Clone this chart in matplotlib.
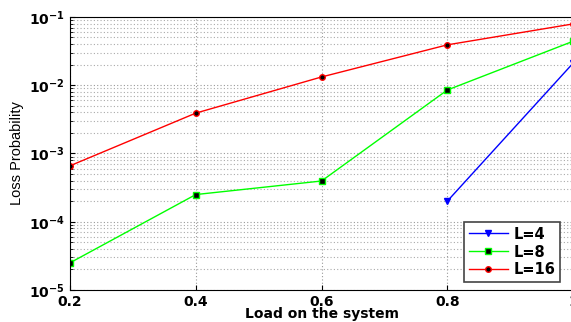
import matplotlib
matplotlib.use("Agg")
import matplotlib.pyplot as plt
import numpy as np

load = [0.2, 0.4, 0.6, 0.8, 1.0]
load_l4 = [0.8, 1.0]
loss_l4 = [2.0e-4, 2.1e-2]
loss_l8 = [2.5e-5, 2.5e-4, 3.95e-4, 8.5e-3, 4.4e-2]
loss_l16 = [6.6e-4, 3.9e-3, 1.32e-2, 3.9e-2, 7.9e-2]

plt.rcParams['font.family'] = ['DejaVu Sans']
plt.rcParams['mathtext.default'] = 'bf'

fig = plt.figure(figsize=(5.71, 3.22), dpi=100)
ax = fig.add_axes([0.1226, 0.0994, 0.881, 0.848])

ax.plot(load_l4, loss_l4, color='blue', lw=1, marker='v', ms=5,
        mfc='blue', mec='blue', label='L=4')
ax.plot(load, loss_l8, color='#00ff00', lw=1, marker='s', ms=4,
        mfc='black', mec='#00ff00', mew=1, label='L=8')
ax.plot(load, loss_l16, color='red', lw=1, marker='o', ms=4,
        mfc='black', mec='red', mew=1, label='L=16')

ax.set_yscale('log')
ax.set_ylim(1e-5, 1e-1)
ax.set_xlim(0.2, 1.0)
ax.set_xticks([0.2, 0.4, 0.6, 0.8, 1.0])
ax.set_xticklabels(['0.2', '0.4', '0.6', '0.8', '1'])

# dotted grid, minor lines only on the log axis
ax.grid(True, which='major', linestyle=(0, (1, 2)), color='#999999', lw=0.8)
ax.grid(True, which='minor', axis='y', linestyle=(0, (1, 2)), color='#aaaaaa', lw=0.8)

ax.tick_params(which='both', direction='in', labelsize=10)
ax.tick_params(which='minor', length=2)
ax.tick_params(axis='y', pad=4)
for lab in ax.get_xticklabels() + ax.get_yticklabels():
    lab.set_fontweight('bold')

ax.set_xlabel('Load on the system', fontsize=10, fontweight='bold', labelpad=-1)
ax.set_ylabel('Loss Probability', fontsize=10.5, labelpad=3,
              family=['Liberation Sans', 'DejaVu Sans'])

leg = ax.legend(loc='lower right', bbox_to_anchor=(0.974, 0.03), fancybox=False,
                edgecolor='#444444', framealpha=1, borderaxespad=0,
                prop={'weight': 'bold', 'size': 10.5}, handlelength=2.7,
                labelspacing=0.2, borderpad=0.3, handletextpad=0.4)
leg.get_frame().set_linewidth(1.2)

fig.savefig('out.png', dpi=100)
